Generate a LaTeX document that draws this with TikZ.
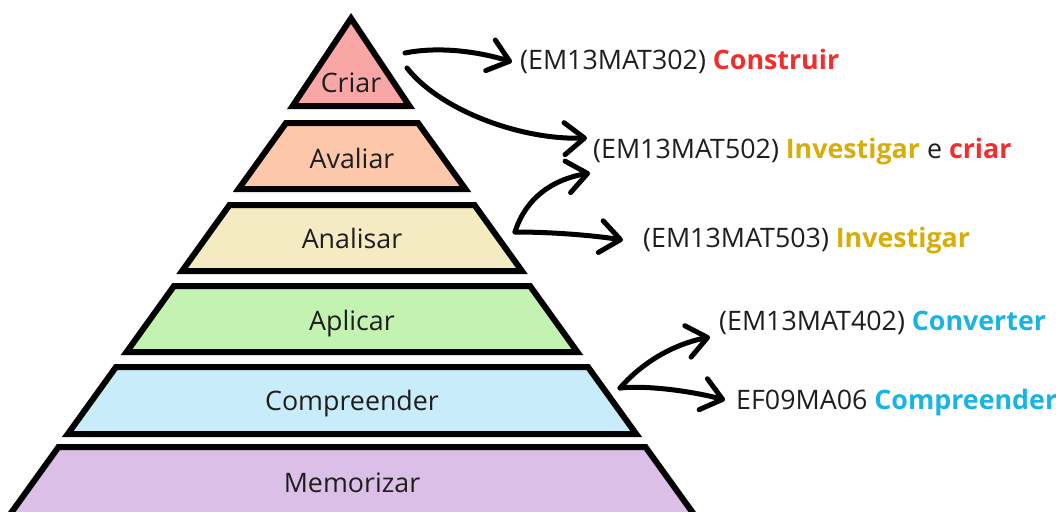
\documentclass[tikz,border=0pt]{standalone}
\usepackage{fontspec}
\setmainfont{Open Sans}
\usetikzlibrary{arrows.meta}
\definecolor{cCriar}{HTML}{F9A6A6}
\definecolor{cAval}{HTML}{FCC7AB}
\definecolor{cAnal}{HTML}{F4EBC3}
\definecolor{cApl}{HTML}{C4F2B0}
\definecolor{cComp}{HTML}{C9ECFB}
\definecolor{cMem}{HTML}{DCBFE7}
\definecolor{cRed}{HTML}{F02E2E}
\definecolor{cGold}{HTML}{D6AD0A}
\definecolor{cCyan}{HTML}{1AB4E4}
\definecolor{txt}{HTML}{1E1E1E}
\newcommand{\hlt}[2]{{\bfseries\color{#1}#2}}
\begin{document}
\begin{tikzpicture}[x=1pt,y=-1pt,
  layer/.style={draw=black, line width=6pt, line join=miter},
  lbl/.style={font=\fontsize{26.8}{30}\selectfont, text=txt, inner sep=0pt, anchor=base},
  reftxt/.style={font=\fontsize{26.8}{30}\selectfont, text=txt, inner sep=0pt, anchor=base west},
  hand/.style={line width=5pt, line cap=round, -{Straight Barb[length=20pt,width=32pt,line width=5pt,round]}}]
\useasboundingbox (0,0) rectangle (1056,511);
\clip (0,0) rectangle (1056,511);
% pyramid layers
\filldraw[layer, fill=cCriar] (351,18.4) -- (409.4,106) -- (292.6,106) -- cycle;
\filldraw[layer, fill=cAval] (286,123) -- (418,123) -- (465.4,189) -- (238.6,189) -- cycle;
\filldraw[layer, fill=cAnal] (229.5,205) -- (474.5,205) -- (521.9,271) -- (182.1,271) -- cycle;
\filldraw[layer, fill=cApl] (174,286) -- (530,286) -- (577.4,352) -- (126.6,352) -- cycle;
\filldraw[layer, fill=cComp] (116,367) -- (588,367) -- (636.2,434) -- (67.8,434) -- cycle;
\filldraw[layer, fill=cMem] (58.5,447) -- (645.5,447) -- (703,527) -- (1,527) -- cycle;
% layer labels
\node[lbl] (criar) at (351,92) {Criar};
\node[lbl] (avaliar) at (352,168) {Avaliar};
\node[lbl] (analisar) at (352,248) {Analisar};
\node[lbl] (aplicar) at (352,330) {Aplicar};
\node[lbl] (compreender) at (352,410) {Compreender};
\node[lbl] (memorizar) at (352,492) {Memorizar};
% reference texts
\node[reftxt] (t1) at (520,70) {(EM13MAT302) \hlt{cRed}{Construir}};
\node[reftxt] (t2) at (593,158) {(EM13MAT502) \hlt{cGold}{Investigar} e \hlt{cRed}{criar}};
\node[reftxt] (t3) at (643,247) {(EM13MAT503) \hlt{cGold}{Investigar}};
\node[reftxt] (t4) at (719,330) {(EM13MAT402) \hlt{cCyan}{Converter}};
\node[reftxt] (t5) at (736,409) {EF09MA06 \hlt{cCyan}{Compreender}};
% arrow end points
\coordinate (s1) at (405,53);
\coordinate (s2) at (407,68);
\coordinate (s3) at (515,232);
\coordinate (s4) at (620,388);
\coordinate (e1) at (512,62);
\coordinate (e2) at (587,138);
\coordinate (e3) at (590,173);
\coordinate (e4) at (623,240);
\coordinate (e5) at (710,337);
\coordinate (e6) at (725,400);
% arrows
\draw[hand] (s1) .. controls (440,46) and (480,52) .. (e1);
\draw[hand] (s2) .. controls (440,110) and (520,140) .. (e2);
\draw[hand] (s3) .. controls (525,200) and (550,180) .. (e3);
\draw[hand] (s3) .. controls (550,232) and (590,235) .. (e4);
\draw[hand] (s4) .. controls (640,365) and (670,345) .. (e5);
\draw[hand] (s4) .. controls (650,385) and (695,392) .. (e6);
\end{tikzpicture}
\end{document}
